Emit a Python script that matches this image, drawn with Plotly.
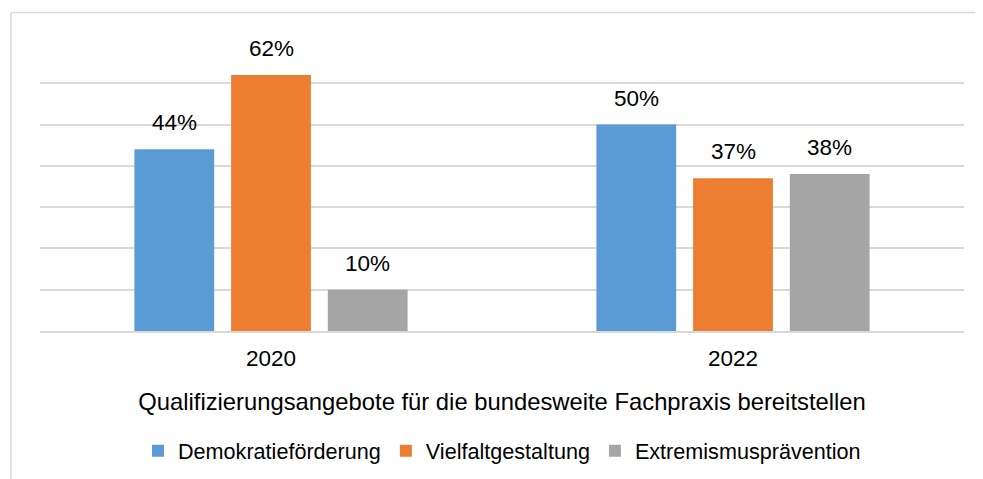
import plotly.graph_objects as go

categories = ["2020", "2022"]
series_names = ["Demokratieförderung", "Vielfaltgestaltung", "Extremismusprävention"]
values = {
    "Demokratieförderung": [44, 50],
    "Vielfaltgestaltung": [62, 37],
    "Extremismusprävention": [10, 38],
}
colors = ["#5B9BD5", "#ED7D31", "#A5A5A5"]
axis_title = "Qualifizierungsangebote für die bundesweite Fachpraxis bereitstellen"

# page is rendered with an 8px body margin; size the figure to fit the window
OFF = 8
W, H = 983 - OFF, 479 - OFF
ML, MR, MT, MB = 32, 19, 33.5, 148.3
BARGAP, GROUPGAP = 0.372, 0.175

pw = W - ML - MR
ph = H - MT - MB
slot = pw / len(categories) * (1 - BARGAP) / len(series_names)


def px_x(p):
    return (p - OFF - ML) / pw


def px_y(p):
    return (H - MB - (p - OFF)) / ph


fig = go.Figure()
annotations = []
for i, (name, col) in enumerate(zip(series_names, colors)):
    v = values[name]
    fig.add_trace(go.Bar(x=categories, y=v, name=name, marker_color=col,
                         marker_line_width=0))
    for j, val in enumerate(v):
        annotations.append(dict(
            x=j, y=val, xref="x", yref="y", text=f"{val}%", showarrow=False,
            xanchor="center", yanchor="bottom",
            xshift=(i - (len(series_names) - 1) / 2) * slot, yshift=12,
            font=dict(size=22.5, color="#000000"),
        ))

fig.update_layout(
    width=W, height=H,
    margin=dict(l=ML, r=MR, t=MT, b=MB, autoexpand=False),
    paper_bgcolor="white", plot_bgcolor="white",
    font=dict(family="Liberation Sans, Arial, sans-serif", size=22.5, color="#000000"),
    barmode="group", bargap=BARGAP, bargroupgap=GROUPGAP,
    showlegend=True,
    legend=dict(orientation="h", x=0.5, xanchor="center", y=px_y(451), yanchor="middle",
                font=dict(size=21.6), itemwidth=30, traceorder="normal"),
    xaxis=dict(type="category", range=[-0.5, len(categories) - 0.5], showgrid=False,
               showline=True, linecolor="#D9D9D9",
               linewidth=1.5, ticks="", tickfont=dict(size=22.5), ticklabelstandoff=6,
               title=dict(text=axis_title, font=dict(size=23.8), standoff=24)),
    yaxis=dict(range=[0, 70], dtick=10, showgrid=True, gridcolor="#D9D9D9", gridwidth=1.5,
               showticklabels=False, zeroline=False, ticks="", fixedrange=True),
    annotations=annotations,
    shapes=[dict(type="line", xref="paper", yref="paper",
                 x0=px_x(11), x1=px_x(1000), y0=px_y(12), y1=px_y(12),
                 line=dict(color="#D9D9D9", width=1.5)),
            dict(type="line", xref="paper", yref="paper",
                 x0=px_x(11), x1=px_x(11), y0=px_y(12), y1=px_y(500),
                 line=dict(color="#D9D9D9", width=1.5))],
)
fig.write_html("out.html")
